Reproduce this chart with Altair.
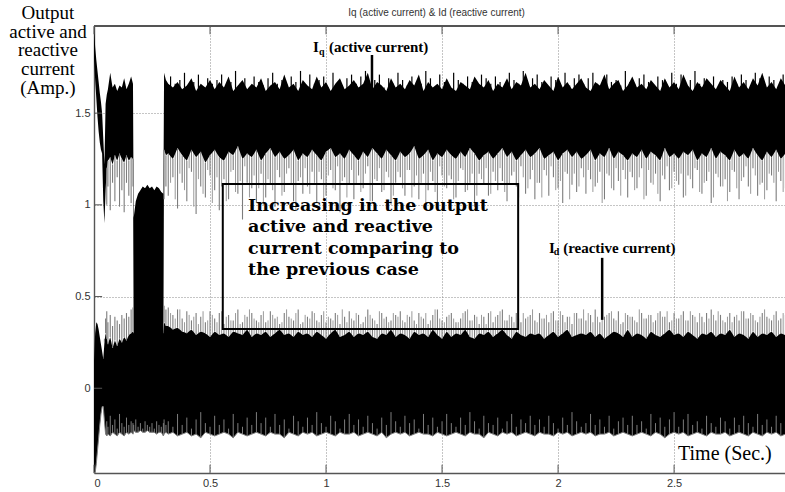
import altair as alt
import pandas as pd

# ---------------- data ----------------
T = [0.000, 0.005, 0.010, 0.015, 0.020, 0.025, 0.030, 0.035, 0.040, 0.045,
     0.050, 0.055, 0.060, 0.070, 0.080, 0.090, 0.100, 0.110, 0.120, 0.130,
     0.140, 0.150, 0.160, 0.168, 0.171, 0.180, 0.190, 0.200, 0.210, 0.220,
     0.230, 0.240, 0.250, 0.260, 0.270, 0.280, 0.290, 0.299, 0.302, 0.310,
     0.32, 0.34, 0.36, 0.38, 0.40, 0.42, 0.44, 0.46, 0.48, 0.50,
     0.52, 0.54, 0.56, 0.58, 0.60, 0.62, 0.64, 0.66, 0.68, 0.70,
     0.72, 0.74, 0.76, 0.78, 0.80, 0.82, 0.84, 0.86, 0.88, 0.90,
     0.92, 0.94, 0.96, 0.98, 1.00, 1.02, 1.04, 1.06, 1.08, 1.10,
     1.12, 1.14, 1.16, 1.18, 1.20, 1.22, 1.24, 1.26, 1.28, 1.30,
     1.32, 1.34, 1.36, 1.38, 1.40, 1.42, 1.44, 1.46, 1.48, 1.50,
     1.52, 1.54, 1.56, 1.58, 1.60, 1.62, 1.64, 1.66, 1.68, 1.70,
     1.72, 1.74, 1.76, 1.78, 1.80, 1.82, 1.84, 1.86, 1.88, 1.90,
     1.92, 1.94, 1.96, 1.98, 2.00, 2.02, 2.04, 2.06, 2.08, 2.10,
     2.12, 2.14, 2.16, 2.18, 2.20, 2.22, 2.24, 2.26, 2.28, 2.30,
     2.32, 2.34, 2.36, 2.38, 2.40, 2.42, 2.44, 2.46, 2.48, 2.50,
     2.52, 2.54, 2.56, 2.58, 2.60, 2.62, 2.64, 2.66, 2.68, 2.70,
     2.72, 2.74, 2.76, 2.78, 2.80, 2.82, 2.84, 2.86, 2.88, 2.90,
     2.92, 2.94, 2.96, 2.98]

# Iq (active current): upper edge of the dense band
IQ_HI = [1.97, 1.86, 1.79, 1.73, 1.67, 1.61, 1.56, 1.50, 1.36, 1.22,
         1.55, 1.60, 1.63, 1.72, 1.64, 1.66, 1.62, 1.65, 1.64, 1.69,
         1.63, 1.66, 1.70, 1.66, 0.93, 1.02, 1.06, 1.08, 1.10, 1.09,
         1.11, 1.09, 1.10, 1.08, 1.10, 1.09, 1.07, 1.06, 1.72, 1.68,
         1.66, 1.64, 1.67, 1.63, 1.65, 1.69, 1.62, 1.66, 1.64, 1.68,
         1.63, 1.67, 1.64, 1.70, 1.62, 1.65, 1.68, 1.63, 1.66, 1.64,
         1.69, 1.62, 1.65, 1.67, 1.63, 1.71, 1.64, 1.66, 1.62, 1.68,
         1.65, 1.63, 1.70, 1.64, 1.67, 1.62, 1.66, 1.69, 1.63, 1.65,
         1.68, 1.64, 1.66, 1.72, 1.63, 1.67, 1.65, 1.62, 1.69, 1.64,
         1.66, 1.63, 1.68, 1.65, 1.71, 1.62, 1.67, 1.64, 1.66, 1.63,
         1.69, 1.64, 1.62, 1.67, 1.65, 1.63, 1.70, 1.66, 1.64, 1.68,
         1.62, 1.66, 1.64, 1.69, 1.63, 1.67, 1.65, 1.72, 1.64, 1.66,
         1.63, 1.68, 1.65, 1.62, 1.70, 1.64, 1.67, 1.63, 1.66, 1.69,
         1.64, 1.62, 1.67, 1.65, 1.71, 1.63, 1.66, 1.68, 1.62, 1.65,
         1.70, 1.64, 1.66, 1.63, 1.68, 1.65, 1.62, 1.69, 1.64, 1.67,
         1.63, 1.71, 1.65, 1.62, 1.67, 1.64, 1.69, 1.66, 1.63, 1.68,
         1.65, 1.62, 1.70, 1.64, 1.67, 1.63, 1.69, 1.65, 1.72, 1.64,
         1.67, 1.63, 1.69, 1.65]

# Iq: lower edge of the solid black core
IQ_LO = [1.80, 1.68, 1.58, 1.48, 1.40, 1.34, 1.30, 1.28, 1.02, 0.90,
         1.08, 1.20, 1.24, 1.26, 1.22, 1.27, 1.24, 1.28, 1.25, 1.23,
         1.27, 1.24, 1.26, 1.25, 0.25, 0.25, 0.25, 0.25, 0.25, 0.25,
         0.25, 0.25, 0.25, 0.25, 0.25, 0.25, 0.25, 0.25, 1.30, 1.27,
         1.28, 1.25, 1.31, 1.27, 1.24, 1.30, 1.26, 1.29, 1.23, 1.27,
         1.30, 1.26, 1.24, 1.29, 1.27, 1.32, 1.25, 1.28, 1.26, 1.30,
         1.24, 1.28, 1.31, 1.26, 1.29, 1.25, 1.27, 1.30, 1.24, 1.28,
         1.26, 1.30, 1.27, 1.24, 1.29, 1.31, 1.26, 1.28, 1.25, 1.30,
         1.27, 1.24, 1.29, 1.26, 1.31, 1.28, 1.25, 1.30, 1.27, 1.24,
         1.29, 1.26, 1.28, 1.32, 1.25, 1.27, 1.30, 1.24, 1.28, 1.26,
         1.30, 1.27, 1.25, 1.29, 1.26, 1.31, 1.28, 1.24, 1.27, 1.29,
         1.25, 1.28, 1.31, 1.26, 1.29, 1.24, 1.27, 1.30, 1.26, 1.28,
         1.31, 1.25, 1.27, 1.29, 1.24, 1.28, 1.30, 1.26, 1.29, 1.25,
         1.27, 1.30, 1.24, 1.28, 1.26, 1.31, 1.25, 1.29, 1.27, 1.24,
         1.28, 1.26, 1.30, 1.25, 1.29, 1.27, 1.24, 1.31, 1.26, 1.28,
         1.25, 1.29, 1.27, 1.30, 1.24, 1.28, 1.26, 1.31, 1.25, 1.29,
         1.27, 1.24, 1.30, 1.26, 1.28, 1.25, 1.31, 1.27, 1.24, 1.29,
         1.26, 1.30, 1.25, 1.28]

# Iq: tips of the grey downward spikes
IQ_SP = [1.80, 1.68, 1.58, 1.48, 1.40, 1.34, 1.30, 1.28, 1.02, 0.90,
         1.08, 1.00, 1.10, 0.97, 1.12, 1.02, 1.15, 0.99, 1.08, 0.96,
         1.12, 1.05, 1.01, 1.10, 0.25, 0.25, 0.25, 0.25, 0.25, 0.25,
         0.25, 0.25, 0.25, 0.25, 0.25, 0.25, 0.25, 0.25, 1.03, 1.10,
         1.05, 1.15, 0.98, 1.12, 1.02, 1.18, 0.95, 1.10, 1.04, 1.16,
         1.08, 0.97, 1.14, 1.03, 1.19, 1.06, 0.92, 1.12, 1.09, 1.01,
         1.17, 1.04, 1.11, 0.99, 1.15, 1.07, 1.20, 1.02, 1.13, 1.06,
         1.10, 1.18, 1.01, 1.14, 1.05, 1.19, 1.08, 0.96, 1.15, 1.11,
         1.03, 1.16, 1.09, 1.21, 1.02, 1.13, 1.07, 1.18, 1.00, 1.12,
         1.15, 1.05, 1.19, 1.10, 1.03, 1.17, 1.08, 1.13, 0.98, 1.16,
         1.09, 1.14, 1.04, 1.20, 1.07, 1.12, 0.99, 1.17, 1.11, 1.05,
         1.18, 1.08, 1.13, 1.02, 1.16, 1.10, 1.21, 1.06, 1.14, 1.03,
         1.12, 1.19, 1.05, 1.15, 1.09, 1.01, 1.17, 1.11, 1.07, 1.20,
         1.06, 1.14, 1.10, 1.18, 1.03, 1.16, 1.08, 1.13, 1.19, 1.04,
         1.15, 1.09, 1.20, 1.05, 1.12, 1.17, 1.02, 1.14, 1.08, 1.18,
         1.11, 1.04, 1.16, 1.09, 1.19, 1.06, 1.13, 1.01, 1.17, 1.10,
         1.14, 1.07, 1.18, 1.03, 1.15, 1.10, 1.20, 1.05, 1.12, 1.08,
         1.16, 1.02, 1.13, 1.09]

# Id (reactive current): tips of the grey upward spikes
ID_SP = [0.15, 0.30, 0.36, 0.35, 0.32, 0.28, 0.24, 0.20, 0.16, 0.27,
         0.38, 0.42, 0.36, 0.40, 0.34, 0.39, 0.37, 0.35, 0.40, 0.38,
         0.41, 0.39, 0.43, 0.44, 0.30, 0.30, 0.30, 0.30, 0.30, 0.30,
         0.30, 0.30, 0.30, 0.30, 0.30, 0.30, 0.30, 0.30, 0.45, 0.43,
         0.44, 0.40, 0.43, 0.38, 0.42, 0.37, 0.41, 0.39, 0.36, 0.42,
         0.38, 0.41, 0.35, 0.40, 0.37, 0.43, 0.36, 0.39, 0.41, 0.37,
         0.40, 0.36, 0.42, 0.38, 0.35, 0.41, 0.39, 0.37, 0.43, 0.36,
         0.39, 0.42, 0.37, 0.40, 0.36, 0.38, 0.41, 0.35, 0.39, 0.42,
         0.37, 0.40, 0.36, 0.43, 0.38, 0.35, 0.41, 0.39, 0.37, 0.40,
         0.42, 0.36, 0.39, 0.37, 0.41, 0.38, 0.35, 0.40, 0.43, 0.37,
         0.39, 0.41, 0.36, 0.38, 0.42, 0.37, 0.40, 0.35, 0.39, 0.41,
         0.36, 0.40, 0.43, 0.37, 0.39, 0.41, 0.36, 0.38, 0.40, 0.37,
         0.41, 0.38, 0.36, 0.42, 0.37, 0.40, 0.39, 0.35, 0.41, 0.38,
         0.37, 0.40, 0.43, 0.36, 0.39, 0.41, 0.38, 0.42, 0.36, 0.40,
         0.39, 0.36, 0.41, 0.38, 0.40, 0.37, 0.42, 0.39, 0.36, 0.41,
         0.38, 0.42, 0.37, 0.40, 0.36, 0.39, 0.41, 0.43, 0.37, 0.40,
         0.36, 0.41, 0.39, 0.37, 0.42, 0.38, 0.40, 0.36, 0.41, 0.39,
         0.37, 0.42, 0.38, 0.40]

# Id: upper edge of the solid black core
ID_HI = [0.15, 0.30, 0.36, 0.35, 0.32, 0.28, 0.24, 0.20, 0.16, 0.25,
         0.30, 0.27, 0.24, 0.28, 0.22, 0.26, 0.23, 0.27, 0.25, 0.28,
         0.26, 0.29, 0.30, 0.31, 0.30, 0.30, 0.30, 0.30, 0.30, 0.30,
         0.30, 0.30, 0.30, 0.30, 0.30, 0.30, 0.30, 0.30, 0.36, 0.34,
         0.34, 0.32, 0.33, 0.31, 0.30, 0.32, 0.29, 0.31, 0.30, 0.28,
         0.31, 0.29, 0.30, 0.28, 0.31, 0.30, 0.29, 0.32, 0.28, 0.30,
         0.29, 0.31, 0.28, 0.30, 0.32, 0.29, 0.30, 0.28, 0.31, 0.29,
         0.30, 0.28, 0.31, 0.29, 0.27, 0.30, 0.32, 0.28, 0.29, 0.31,
         0.28, 0.30, 0.29, 0.31, 0.28, 0.27, 0.30, 0.29, 0.32, 0.28,
         0.30, 0.29, 0.27, 0.31, 0.29, 0.30, 0.28, 0.32, 0.29, 0.27,
         0.31, 0.28, 0.30, 0.29, 0.32, 0.28, 0.27, 0.30, 0.29, 0.31,
         0.28, 0.30, 0.32, 0.29, 0.27, 0.31, 0.29, 0.28, 0.30, 0.29,
         0.30, 0.27, 0.29, 0.31, 0.28, 0.30, 0.32, 0.28, 0.29, 0.30,
         0.29, 0.31, 0.28, 0.30, 0.27, 0.29, 0.31, 0.30, 0.28, 0.32,
         0.28, 0.30, 0.29, 0.27, 0.31, 0.29, 0.28, 0.30, 0.32, 0.29,
         0.30, 0.28, 0.31, 0.29, 0.27, 0.30, 0.29, 0.31, 0.28, 0.30,
         0.29, 0.32, 0.28, 0.30, 0.29, 0.27, 0.31, 0.28, 0.30, 0.29,
         0.31, 0.28, 0.30, 0.29]

# Id: lower edge of the band
ID_LO = [-0.46, -0.46, -0.41, -0.34, -0.27, -0.20, -0.14, -0.10, -0.10, -0.18,
         -0.25, -0.26, -0.25, -0.26, -0.24, -0.25, -0.26, -0.24, -0.25, -0.26,
         -0.24, -0.25, -0.24, -0.25, -0.23, -0.24, -0.24, -0.23, -0.24, -0.24,
         -0.23, -0.24, -0.24, -0.24, -0.25, -0.24, -0.24, -0.26, -0.25, -0.24,
         -0.25, -0.24, -0.26, -0.25, -0.24, -0.26, -0.25, -0.27, -0.24, -0.25,
         -0.26, -0.25, -0.24, -0.25, -0.27, -0.24, -0.25, -0.26, -0.25, -0.24,
         -0.25, -0.26, -0.24, -0.25, -0.25, -0.27, -0.24, -0.25, -0.26, -0.24,
         -0.25, -0.24, -0.26, -0.25, -0.24, -0.25, -0.26, -0.24, -0.25, -0.25,
         -0.24, -0.26, -0.25, -0.24, -0.25, -0.26, -0.24, -0.27, -0.25, -0.24,
         -0.25, -0.24, -0.26, -0.25, -0.24, -0.25, -0.25, -0.26, -0.24, -0.25,
         -0.26, -0.25, -0.24, -0.25, -0.26, -0.24, -0.25, -0.25, -0.27, -0.24,
         -0.25, -0.26, -0.24, -0.25, -0.24, -0.26, -0.25, -0.24, -0.25, -0.26,
         -0.24, -0.25, -0.25, -0.26, -0.24, -0.25, -0.24, -0.26, -0.25, -0.24,
         -0.25, -0.24, -0.26, -0.25, -0.25, -0.24, -0.26, -0.25, -0.24, -0.25,
         -0.26, -0.25, -0.24, -0.25, -0.26, -0.24, -0.25, -0.27, -0.25, -0.24,
         -0.25, -0.24, -0.26, -0.25, -0.24, -0.25, -0.26, -0.24, -0.25, -0.25,
         -0.24, -0.26, -0.25, -0.24, -0.25, -0.26, -0.24, -0.25, -0.26, -0.24,
         -0.25, -0.24, -0.26, -0.25]

# Id: tips of the grey spikes rising from the lower edge
ID_BS = [-0.46, -0.46, -0.41, -0.34, -0.27, -0.20, -0.14, -0.10, -0.10, -0.18,
         -0.25, -0.18, -0.21, -0.15, -0.20, -0.17, -0.22, -0.14, -0.19, -0.21,
         -0.16, -0.20, -0.18, -0.19, -0.20, -0.17, -0.21, -0.19, -0.22, -0.18,
         -0.20, -0.21, -0.19, -0.22, -0.18, -0.20, -0.21, -0.19, -0.17, -0.20,
         -0.18, -0.21, -0.14, -0.20, -0.16, -0.22, -0.17, -0.13, -0.19, -0.21,
         -0.15, -0.20, -0.17, -0.22, -0.14, -0.19, -0.21, -0.16, -0.20, -0.13,
         -0.19, -0.16, -0.21, -0.14, -0.20, -0.17, -0.22, -0.15, -0.18, -0.21,
         -0.16, -0.20, -0.13, -0.19, -0.21, -0.15, -0.18, -0.22, -0.17, -0.14,
         -0.20, -0.17, -0.21, -0.15, -0.19, -0.22, -0.16, -0.20, -0.13, -0.18,
         -0.21, -0.15, -0.19, -0.17, -0.22, -0.14, -0.20, -0.16, -0.21, -0.18,
         -0.14, -0.19, -0.21, -0.16, -0.20, -0.13, -0.18, -0.22, -0.15, -0.19,
         -0.20, -0.16, -0.22, -0.18, -0.14, -0.21, -0.17, -0.19, -0.15, -0.20,
         -0.17, -0.21, -0.15, -0.19, -0.22, -0.16, -0.20, -0.13, -0.18, -0.21,
         -0.19, -0.14, -0.20, -0.17, -0.21, -0.15, -0.22, -0.18, -0.16, -0.20,
         -0.15, -0.20, -0.18, -0.22, -0.14, -0.19, -0.16, -0.21, -0.17, -0.13,
         -0.21, -0.17, -0.14, -0.20, -0.18, -0.22, -0.15, -0.19, -0.21, -0.16,
         -0.18, -0.22, -0.16, -0.20, -0.15, -0.19, -0.21, -0.14, -0.20, -0.17,
         -0.21, -0.15, -0.19, -0.18]

# second, interleaved set of spike tips (steady part, between the samples above)
T2 = [0.33, 0.35, 0.37, 0.39, 0.41, 0.43, 0.45, 0.47, 0.49, 0.51,
      0.53, 0.55, 0.57, 0.59, 0.61, 0.63, 0.65, 0.67, 0.69, 0.71,
      0.73, 0.75, 0.77, 0.79, 0.81, 0.83, 0.85, 0.87, 0.89, 0.91,
      0.93, 0.95, 0.97, 0.99, 1.01, 1.03, 1.05, 1.07, 1.09, 1.11,
      1.13, 1.15, 1.17, 1.19, 1.21, 1.23, 1.25, 1.27, 1.29, 1.31,
      1.33, 1.35, 1.37, 1.39, 1.41, 1.43, 1.45, 1.47, 1.49, 1.51,
      1.53, 1.55, 1.57, 1.59, 1.61, 1.63, 1.65, 1.67, 1.69, 1.71,
      1.73, 1.75, 1.77, 1.79, 1.81, 1.83, 1.85, 1.87, 1.89, 1.91,
      1.93, 1.95, 1.97, 1.99, 2.01, 2.03, 2.05, 2.07, 2.09, 2.11,
      2.13, 2.15, 2.17, 2.19, 2.21, 2.23, 2.25, 2.27, 2.29, 2.31,
      2.33, 2.35, 2.37, 2.39, 2.41, 2.43, 2.45, 2.47, 2.49, 2.51,
      2.53, 2.55, 2.57, 2.59, 2.61, 2.63, 2.65, 2.67, 2.69, 2.71,
      2.73, 2.75, 2.77, 2.79, 2.81, 2.83, 2.85, 2.87, 2.89, 2.91,
      2.93, 2.95, 2.97]

IQ_SP2 = [1.12, 1.03, 1.17, 1.08, 1.20, 0.99, 1.14, 1.06, 1.19, 1.01,
          1.15, 1.10, 1.02, 1.18, 1.07, 1.13, 1.21, 1.04, 1.16, 1.09,
          1.00, 1.14, 1.08, 1.19, 1.05, 1.17, 1.11, 0.97, 1.15, 1.20,
          1.06, 1.12, 1.18, 1.03, 1.16, 1.09, 1.21, 1.13, 1.04, 1.19,
          1.11, 1.07, 1.17, 1.02, 1.14, 1.20, 1.08, 1.15, 1.05, 1.18,
          1.09, 1.19, 1.04, 1.16, 1.12, 1.00, 1.18, 1.07, 1.21, 1.10,
          1.16, 1.03, 1.13, 1.19, 1.08, 1.17, 1.05, 1.14, 1.20, 1.06,
          1.13, 1.20, 1.07, 1.11, 1.18, 1.04, 1.15, 1.09, 1.19, 1.12,
          1.04, 1.16, 1.21, 1.08, 1.13, 1.18, 1.03, 1.17, 1.10, 1.15,
          1.19, 1.07, 1.12, 1.01, 1.17, 1.09, 1.20, 1.05, 1.14, 1.18,
          1.08, 1.15, 1.03, 1.19, 1.11, 1.06, 1.16, 1.21, 1.09, 1.13,
          1.17, 1.05, 1.14, 1.20, 1.07, 1.12, 1.18, 1.04, 1.15, 1.10,
          1.02, 1.19, 1.09, 1.13, 1.21, 1.06, 1.16, 1.11, 1.03, 1.17,
          1.12, 1.18, 1.07]

IQ_UP2 = [1.70, 1.66, 1.68, 1.72, 1.65, 1.67, 1.71, 1.64, 1.69, 1.66,
          1.68, 1.71, 1.65, 1.67, 1.73, 1.66, 1.69, 1.64, 1.70, 1.67,
          1.65, 1.69, 1.72, 1.66, 1.68, 1.64, 1.70, 1.67, 1.73, 1.65,
          1.71, 1.66, 1.68, 1.70, 1.64, 1.72, 1.67, 1.65, 1.69, 1.71,
          1.66, 1.70, 1.73, 1.65, 1.68, 1.71, 1.64, 1.69, 1.66, 1.72,
          1.68, 1.65, 1.70, 1.67, 1.66, 1.73, 1.69, 1.64, 1.71, 1.67,
          1.65, 1.72, 1.68, 1.66, 1.70, 1.67, 1.64, 1.71, 1.69, 1.66,
          1.70, 1.67, 1.65, 1.72, 1.68, 1.66, 1.73, 1.65, 1.69, 1.71,
          1.67, 1.64, 1.70, 1.68, 1.66, 1.72, 1.65, 1.69, 1.71, 1.66,
          1.69, 1.72, 1.66, 1.64, 1.71, 1.67, 1.68, 1.65, 1.73, 1.67,
          1.66, 1.69, 1.71, 1.67, 1.65, 1.70, 1.68, 1.64, 1.72, 1.66,
          1.71, 1.65, 1.68, 1.73, 1.66, 1.69, 1.67, 1.70, 1.64, 1.68,
          1.67, 1.70, 1.66, 1.71, 1.68, 1.65, 1.72, 1.69, 1.66, 1.70,
          1.68, 1.65, 1.71]

ID_SP2 = [0.41, 0.38, 0.43, 0.36, 0.40, 0.39, 0.35, 0.42, 0.37, 0.40,
          0.36, 0.42, 0.39, 0.37, 0.41, 0.35, 0.40, 0.43, 0.38, 0.36,
          0.42, 0.37, 0.40, 0.39, 0.36, 0.43, 0.38, 0.41, 0.35, 0.40,
          0.38, 0.41, 0.36, 0.42, 0.39, 0.37, 0.40, 0.43, 0.36, 0.38,
          0.41, 0.35, 0.39, 0.40, 0.37, 0.42, 0.38, 0.36, 0.41, 0.39,
          0.37, 0.40, 0.42, 0.35, 0.39, 0.41, 0.37, 0.43, 0.38, 0.36,
          0.40, 0.38, 0.36, 0.41, 0.43, 0.37, 0.39, 0.40, 0.35, 0.42,
          0.39, 0.42, 0.37, 0.40, 0.36, 0.38, 0.41, 0.39, 0.43, 0.36,
          0.38, 0.40, 0.41, 0.37, 0.42, 0.36, 0.39, 0.41, 0.38, 0.43,
          0.41, 0.36, 0.39, 0.38, 0.40, 0.42, 0.37, 0.35, 0.41, 0.39,
          0.37, 0.43, 0.38, 0.40, 0.36, 0.41, 0.39, 0.42, 0.37, 0.38,
          0.40, 0.37, 0.42, 0.39, 0.41, 0.36, 0.38, 0.40, 0.42, 0.37,
          0.39, 0.36, 0.40, 0.42, 0.38, 0.41, 0.37, 0.39, 0.43, 0.38,
          0.40, 0.37, 0.41]

X_TICKS = [0, 0.5, 1, 1.5, 2, 2.5]
Y_TICKS = [0, 0.5, 1, 1.5]

TITLE = "Iq (active current) & Id (reactive current)"
Y_LABEL = "Output\nactive and\nreactive\ncurrent\n(Amp.)"
X_LABEL = "Time (Sec.)"
BOX_TEXT = "Increasing in the output\nactive and reactive\ncurrent comparing to\nthe previous case"

LABEL_TEXT = ["I", "(active current)", "I", "(reactive current)"]
LABEL_T = [0.944, 1.013, 1.961, 2.022]
LABEL_V = [1.862, 1.862, 0.764, 0.764]
SUB_TEXT = ["q", "d"]
SUB_T = [0.970, 1.981]
SUB_V = [1.834, 0.742]
PTR_T = [1.198, 2.190]
PTR_V0 = [1.817, 0.711]
PTR_V1 = [1.627, 0.373]
BOX_T = [0.555, 1.828]
BOX_V = [0.323, 1.114]

# ---------------- layout ----------------
X_MAX = 2.978
Y_MIN, Y_MAX = -0.462, 1.975
W, H = 691, 447
GRAY = "#7d7d7d"
LIGHT = "#9a9a9a"
FRAME = "#555555"
TICK_FONT = "Liberation Sans Narrow, Arial Narrow, Liberation Sans, sans-serif"
SERIF = "Liberation Serif, Times New Roman, serif"
IQ_BASE, IQ_TOP_BASE, ID_BASE = 1.40, 1.50, 0.15

df = pd.DataFrame({"t": T, "iq_hi": IQ_HI, "iq_lo": IQ_LO, "iq_sp": IQ_SP,
                   "id_sp": ID_SP, "id_hi": ID_HI, "id_lo": ID_LO, "id_bs": ID_BS})
df2 = pd.DataFrame({"t": T2, "iq_sp": IQ_SP2, "iq_up": IQ_UP2, "id_sp": ID_SP2})
df2["iq_base"] = IQ_BASE
df2["iq_top_base"] = IQ_TOP_BASE
df2["id_base"] = ID_BASE

xs = alt.Scale(domain=[0, X_MAX], nice=False, zero=False)
ys = alt.Scale(domain=[Y_MIN, Y_MAX], nice=False, zero=False)

common_axis = dict(grid=True, gridColor="#8a8a8a", gridDash=[1, 2], gridWidth=1,
                   domainColor=FRAME, domainWidth=1.4, ticks=False,
                   labelFont=TICK_FONT, labelFontSize=11, labelColor="#333333",
                   labelPadding=4, format="~g", title=None, zindex=0)
x_axis = alt.Axis(values=X_TICKS, **common_axis)
y_axis = alt.Axis(values=Y_TICKS, **common_axis)


def X(field):
    return alt.X(field, type="quantitative", scale=xs, axis=x_axis)


def Y(field):
    return alt.Y(field, type="quantitative", scale=ys, axis=y_axis)


base = alt.Chart(df)
base2 = alt.Chart(df2)

# interleaved spikes drawn first: their inner ends are hidden by the black bands
iq_spk2 = base2.mark_rule(color=LIGHT, strokeWidth=1.0, clip=True).encode(
    x=X("t"), y=Y("iq_base"), y2="iq_sp:Q")
id_spk2 = base2.mark_rule(color=LIGHT, strokeWidth=1.0, clip=True).encode(
    x=X("t"), y=Y("id_base"), y2="id_sp:Q")
iq_up2 = base2.mark_rule(color="black", strokeWidth=1.2, clip=True).encode(
    x=X("t"), y=Y("iq_top_base"), y2="iq_up:Q")

iq_area = base.mark_area(color="black", clip=True).encode(
    x=X("t"), y=Y("iq_lo"), y2="iq_hi:Q")
iq_spk = base.mark_rule(color=GRAY, strokeWidth=1.1, clip=True).encode(
    x=X("t"), y=Y("iq_lo"), y2="iq_sp:Q")
id_area = base.mark_area(color="black", clip=True).encode(
    x=X("t"), y=Y("id_lo"), y2="id_hi:Q")
id_spk = base.mark_rule(color=GRAY, strokeWidth=1.1, clip=True).encode(
    x=X("t"), y=Y("id_hi"), y2="id_sp:Q")
id_bspk = base.mark_rule(color=GRAY, strokeWidth=1.0, clip=True).encode(
    x=X("t"), y=Y("id_lo"), y2="id_bs:Q")
id_edge = base.mark_line(color=GRAY, strokeWidth=1, clip=True).encode(
    x=X("t"), y=Y("id_lo"))

# inward ticks (MATLAB style) and top frame line
xt = pd.DataFrame({"t": X_TICKS})
xt["a"] = Y_MIN
xt["b"] = Y_MIN + 0.045
xt["c"] = Y_MAX
xt["d"] = Y_MAX - 0.045
yt = pd.DataFrame({"v": Y_TICKS})
yt["a"] = 0.0
yt["b"] = 0.035
tick_b = alt.Chart(xt).mark_rule(color=FRAME, strokeWidth=1).encode(
    x=X("t"), y=Y("a"), y2="b:Q")
tick_t = alt.Chart(xt).mark_rule(color=FRAME, strokeWidth=1).encode(
    x=X("t"), y=Y("c"), y2="d:Q")
tick_l = alt.Chart(yt).mark_rule(color=FRAME, strokeWidth=1).encode(
    y=Y("v"), x=X("a"), x2="b:Q")
top_frame = alt.Chart(xt).mark_rule(color=FRAME, strokeWidth=1.4).encode(
    x=alt.value(0), x2=alt.value(W), y=alt.value(0))

# annotation box and pointers
box = alt.Chart(pd.DataFrame({"t0": [BOX_T[0]], "t1": [BOX_T[1]],
                              "v0": [BOX_V[0]], "v1": [BOX_V[1]]})).mark_rect(
    fillOpacity=0, stroke="black", strokeWidth=2).encode(
    x=X("t0"), x2="t1:Q", y=Y("v0"), y2="v1:Q")
ptr = alt.Chart(pd.DataFrame({"t": PTR_T, "v0": PTR_V0, "v1": PTR_V1})).mark_rule(
    color="black", strokeWidth=2.5).encode(
    x=X("t"), y=Y("v0"), y2="v1:Q")

lab = alt.Chart(pd.DataFrame({"t": LABEL_T, "v": LABEL_V, "s": LABEL_TEXT})).mark_text(
    font=SERIF, fontSize=15, fontWeight="bold", align="left", baseline="middle",
    color="black").encode(x=X("t"), y=Y("v"), text="s:N")
sub = alt.Chart(pd.DataFrame({"t": SUB_T, "v": SUB_V, "s": SUB_TEXT})).mark_text(
    font=SERIF, fontSize=10, fontWeight="bold", align="left", baseline="middle",
    color="black").encode(x=X("t"), y=Y("v"), text="s:N")
box_txt = alt.Chart(pd.DataFrame({"t": [0.664], "v": [0.994], "s": [BOX_TEXT]})).mark_text(
    font="DejaVu Serif", fontSize=17.5, fontWeight="bold", align="left", baseline="middle",
    lineBreak="\n", lineHeight=21.5, color="black").encode(
    x=X("t"), y=Y("v"), text="s:N")
time_txt = alt.Chart(pd.DataFrame({"t": [2.517], "v": [-0.358], "s": [X_LABEL]})).mark_text(
    font=SERIF, fontSize=20, align="left", baseline="middle", color="black").encode(
    x=X("t"), y=Y("v"), text="s:N")

ylab = alt.Chart(pd.DataFrame({"s": [Y_LABEL]})).mark_text(
    font=SERIF, fontSize=19, align="center", baseline="middle", lineBreak="\n",
    lineHeight=18.7, color="black").encode(
    x=alt.value(-46), y=alt.value(-13), text="s:N")
ttl = alt.Chart(pd.DataFrame({"s": [TITLE]})).mark_text(
    font=TICK_FONT, fontSize=10, align="center", baseline="middle", color="#333333").encode(
    x=alt.value(W / 2 - 3), y=alt.value(-13), text="s:N")

chart = alt.layer(
    iq_spk2, id_spk2, iq_up2,
    iq_area, iq_spk, id_area, id_spk, id_bspk, id_edge,
    tick_b, tick_t, tick_l, top_frame,
    box, ptr, lab, sub, box_txt, time_txt, ylab, ttl,
).properties(
    width=W, height=H, autosize="none",
    padding={"left": 94, "top": 26, "right": 0, "bottom": 19},
).configure_view(strokeWidth=0).configure(background="white")

chart.save("out.html", embed_options={"renderer": "svg", "actions": False})
